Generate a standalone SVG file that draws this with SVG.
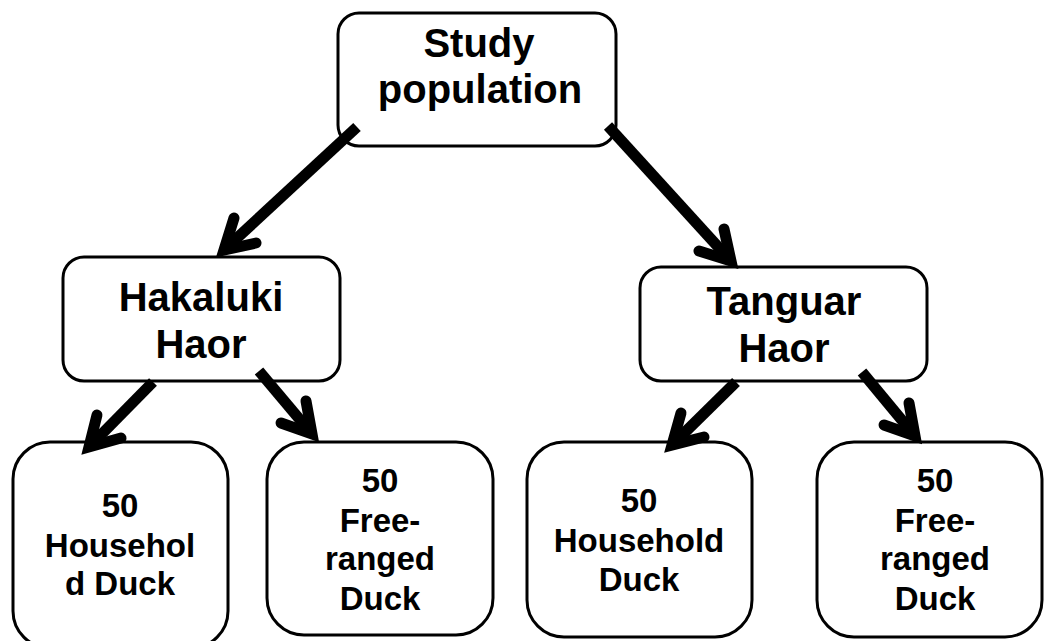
<svg xmlns="http://www.w3.org/2000/svg" width="1046" height="641" viewBox="0 0 1046 641">
  <style>
    .box { fill: #ffffff; stroke: #000000; stroke-width: 3; }
    .t { font-family: "Liberation Sans", Arial, sans-serif; font-weight: bold; fill: #000000; text-anchor: middle; }
    .big { font-size: 40px; }
    .small { font-size: 33px; }
    .shaft { stroke: #000000; stroke-width: 11; fill: none; stroke-linecap: butt; }
    .head { stroke: #000000; stroke-width: 11; fill: none; stroke-linecap: round; stroke-linejoin: miter; stroke-miterlimit: 6; }
  </style>
  <rect width="1046" height="641" fill="#ffffff"/>

  <g id="node-study">
    <rect class="box" x="338" y="13" width="278" height="133" rx="21" ry="21"/>
    <text class="t big" x="479" y="57">Study</text>
    <text class="t big" x="480" y="103">population</text>
  </g>

  <g id="node-hakaluki">
    <rect class="box" x="63" y="257" width="277" height="124" rx="21" ry="21"/>
    <text class="t big" x="201" y="311">Hakaluki</text>
    <text class="t big" x="201" y="358">Haor</text>
  </g>

  <g id="node-tanguar">
    <rect class="box" x="640" y="267" width="287" height="114" rx="21" ry="21"/>
    <text class="t big" x="784" y="315">Tanguar</text>
    <text class="t big" x="784" y="362">Haor</text>
  </g>

  <g id="node-hh1">
    <rect class="box" x="13" y="442" width="215" height="206" rx="37" ry="37"/>
    <text class="t small" x="120" y="517">50</text>
    <text class="t small" x="120" y="557">Househol</text>
    <text class="t small" x="120" y="595">d Duck</text>
  </g>

  <g id="node-fr1">
    <rect class="box" x="267" y="442" width="226" height="193" rx="37" ry="37"/>
    <text class="t small" x="380" y="492">50</text>
    <text class="t small" x="380" y="532">Free-</text>
    <text class="t small" x="380" y="570">ranged</text>
    <text class="t small" x="380" y="610">Duck</text>
  </g>

  <g id="node-hh2">
    <rect class="box" x="527" y="442" width="225" height="195" rx="37" ry="37"/>
    <text class="t small" x="639" y="512">50</text>
    <text class="t small" x="639" y="552">Household</text>
    <text class="t small" x="639" y="591">Duck</text>
  </g>

  <g id="node-fr2">
    <rect class="box" x="817" y="442" width="225" height="195" rx="37" ry="37"/>
    <text class="t small" x="935" y="492">50</text>
    <text class="t small" x="935" y="532">Free-</text>
    <text class="t small" x="935" y="570">ranged</text>
    <text class="t small" x="935" y="610">Duck</text>
  </g>

  <g id="connectors">
    <line class="shaft" x1="357" y1="127" x2="224" y2="250"/>
    <polyline class="head" points="256,243 224,250 234,218"/>

    <line class="shaft" x1="608" y1="126" x2="731" y2="261"/>
    <polyline class="head" points="724,229 731,261 699,251"/>

    <line class="shaft" x1="153" y1="382" x2="89" y2="447"/>
    <polyline class="head" points="121,438 89,447 97,415"/>

    <line class="shaft" x1="259" y1="371" x2="312" y2="434"/>
    <polyline class="head" points="306,401 312,434 281,423"/>

    <line class="shaft" x1="736" y1="382" x2="672" y2="445"/>
    <polyline class="head" points="704,437 672,445 681,413"/>

    <line class="shaft" x1="862" y1="372" x2="915" y2="436"/>
    <polyline class="head" points="909,403 915,436 884,425"/>
  </g>
</svg>
